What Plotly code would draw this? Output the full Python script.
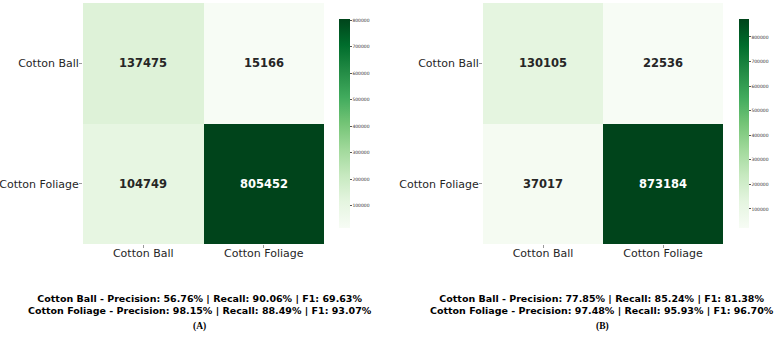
import plotly.graph_objects as go

labels = ["Cotton Ball", "Cotton Foliage"]
cm_a = [[137475, 15166], [104749, 805452]]
cm_b = [[130105, 22536], [37017, 873184]]
metrics_a = [
    "Cotton Ball - Precision: 56.76% | Recall: 90.06% | F1: 69.63%",
    "Cotton Foliage - Precision: 98.15% | Recall: 88.49% | F1: 93.07%",
]
metrics_b = [
    "Cotton Ball - Precision: 77.85% | Recall: 85.24% | F1: 81.38%",
    "Cotton Foliage - Precision: 97.48% | Recall: 95.93% | F1: 96.70%",
]
panel_labels = ["(A)", "(B)"]
cbar_ticks = [100000, 200000, 300000, 400000, 500000, 600000, 700000, 800000]

W, H = 774, 338
FONT = "DejaVu Sans"

fig = go.Figure()

panels = [
    dict(cm=cm_a, xs="x", ys="y", ca="coloraxis", xd=[83 / W, 324 / W], cbx=339 / W, mx=200 / W, met=metrics_a, lab=panel_labels[0]),
    dict(cm=cm_b, xs="x2", ys="y2", ca="coloraxis2", xd=[483 / W, 723 / W], cbx=739 / W, mx=602 / W, met=metrics_b, lab=panel_labels[1]),
]

ydom = [1 - 244 / H, 1 - 3 / H]
annotations = []
layout = {}
for i, p in enumerate(panels):
    fig.add_trace(go.Heatmap(z=p["cm"], x=labels, y=labels, xaxis=p["xs"], yaxis=p["ys"],
                             coloraxis=p["ca"], hoverinfo="skip"))
    flat = [v for row in p["cm"] for v in row]
    zmin, zmax = min(flat), max(flat)
    suffix = "" if i == 0 else "2"
    layout["xaxis" + suffix] = dict(domain=p["xd"], anchor="y" + suffix, showgrid=False, zeroline=False,
                                    ticks="outside", ticklen=3, tickcolor="#999999", showline=False,
                                    automargin=False, ticklabelstandoff=-4,
                                    tickfont=dict(family=FONT, size=11, color="#262626"))
    layout["yaxis" + suffix] = dict(domain=ydom, anchor="x" + suffix, showgrid=False, zeroline=False,
                                    autorange="reversed", ticks="outside", ticklen=3, tickcolor="#999999",
                                    automargin=False, ticklabelstandoff=-2,
                                    tickfont=dict(family=FONT, size=11, color="#262626"))
    layout["coloraxis" + suffix] = dict(
        colorscale="Greens", cmin=zmin, cmax=zmax,
        colorbar=dict(x=p["cbx"], xanchor="left", xref="paper", xpad=0, ypad=0,
                      thickness=11 if i == 0 else 10,
                      len=(228 - 19) / H, lenmode="fraction", y=1 - 123.5 / H, yanchor="middle",
                      outlinewidth=0, tickvals=cbar_ticks, ticks="outside", ticklen=2,
                      tickcolor="#555555", tickfont=dict(family=FONT, size=4.5, color="#333333"),
                      tickformat="d"),
    )
    for r, row in enumerate(p["cm"]):
        for c, v in enumerate(row):
            frac = (v - zmin) / (zmax - zmin)
            annotations.append(dict(x=labels[c], y=labels[r], xref=p["xs"], yref=p["ys"], text="<b>%d</b>" % v,
                                    showarrow=False,
                                    font=dict(family=FONT, size=11.5, color="#ffffff" if frac > 0.5 else "#262626")))
    annotations.append(dict(x=p["mx"], y=1 - 304 / H, xref="paper", yref="paper", showarrow=False,
                            xanchor="center", yanchor="middle",
                            text="<b>" + p["met"][0] + "</b><br><b>" + p["met"][1] + "</b>",
                            font=dict(family=FONT, size=9.5, color="#000000"), align="center"))
    annotations.append(dict(x=p["mx"], y=1 - 326 / H, xref="paper", yref="paper", showarrow=False,
                            xanchor="center", yanchor="middle",
                            text="<b>" + p["lab"] + "</b>",
                            font=dict(family="Liberation Serif", size=9.5, color="#000000")))

fig.update_layout(width=W, height=H, margin=dict(l=0, r=0, t=0, b=0), plot_bgcolor="white",
                  paper_bgcolor="white", annotations=annotations, **layout)
fig.write_html("out.html")
